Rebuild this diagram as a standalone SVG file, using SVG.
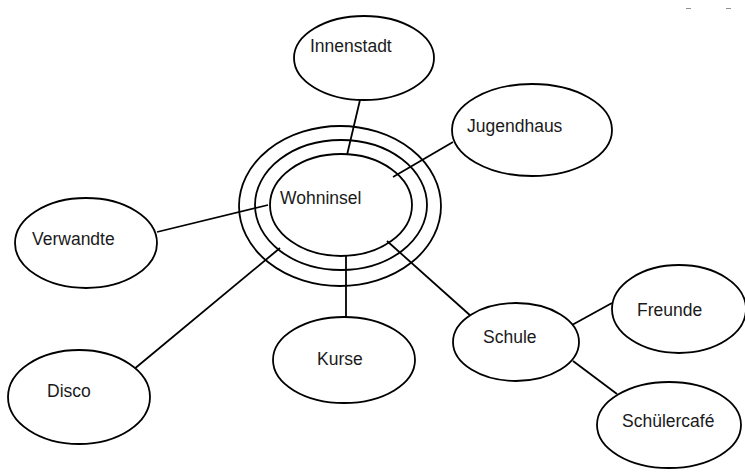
<svg xmlns="http://www.w3.org/2000/svg" width="745" height="472" viewBox="0 0 745 472">
<style>
.n{fill:#fff;stroke:#000;stroke-width:1.8}
.c line{stroke:#000;stroke-width:1.8}
text{font-family:"Liberation Sans",Arial,sans-serif;font-size:17.5px;fill:#1a1a1a}
</style>
<rect width="745" height="472" fill="#fff"/>
<g id="connectors" class="c">
<line x1="360" y1="100" x2="347" y2="155"/>
<line x1="453" y1="142" x2="393" y2="177"/>
<line x1="157" y1="232" x2="268" y2="205"/>
<line x1="133" y1="370" x2="280" y2="248"/>
<line x1="346" y1="255" x2="346" y2="317"/>
<line x1="387" y1="241" x2="472" y2="317"/>
<line x1="572" y1="325" x2="612" y2="303"/>
<line x1="573" y1="361" x2="617" y2="394"/>
</g>
<g id="wohninsel">
<ellipse class="n" cx="340" cy="206" rx="101" ry="80" fill="none" style="fill:none"/>
<ellipse class="n" cx="341" cy="205" rx="86" ry="65" style="fill:none"/>
<ellipse class="n" cx="341" cy="205" rx="71" ry="51" style="fill:none"/>
<text x="280" y="204">Wohninsel</text>
</g>
<g id="innenstadt">
<ellipse class="n" cx="364" cy="58" rx="70" ry="42"/>
<text x="310" y="52">Innenstadt</text>
</g>
<g id="jugendhaus">
<ellipse class="n" cx="532" cy="130" rx="80" ry="46"/>
<text x="467" y="132">Jugendhaus</text>
</g>
<g id="verwandte">
<ellipse class="n" cx="86" cy="243" rx="71" ry="45"/>
<text x="32" y="245">Verwandte</text>
</g>
<g id="disco">
<ellipse class="n" cx="79" cy="397" rx="71" ry="47"/>
<text x="47" y="397">Disco</text>
</g>
<g id="kurse">
<ellipse class="n" cx="344" cy="360" rx="71" ry="43"/>
<text x="317" y="365">Kurse</text>
</g>
<g id="schule">
<ellipse class="n" cx="516" cy="342" rx="63" ry="39"/>
<text x="483" y="343">Schule</text>
</g>
<g id="freunde">
<ellipse class="n" cx="679" cy="309" rx="67" ry="44"/>
<text x="637" y="316">Freunde</text>
</g>
<g id="schuelercafe">
<ellipse class="n" cx="669" cy="425" rx="72" ry="43"/>
<text x="622" y="427">Schülercafé</text>
</g>
<g id="marks" stroke="#8a8f99" stroke-width="1">
<line x1="686" y1="8.5" x2="691" y2="8.5"/>
<line x1="726" y1="8.5" x2="731" y2="8.5"/>
</g>
</svg>
